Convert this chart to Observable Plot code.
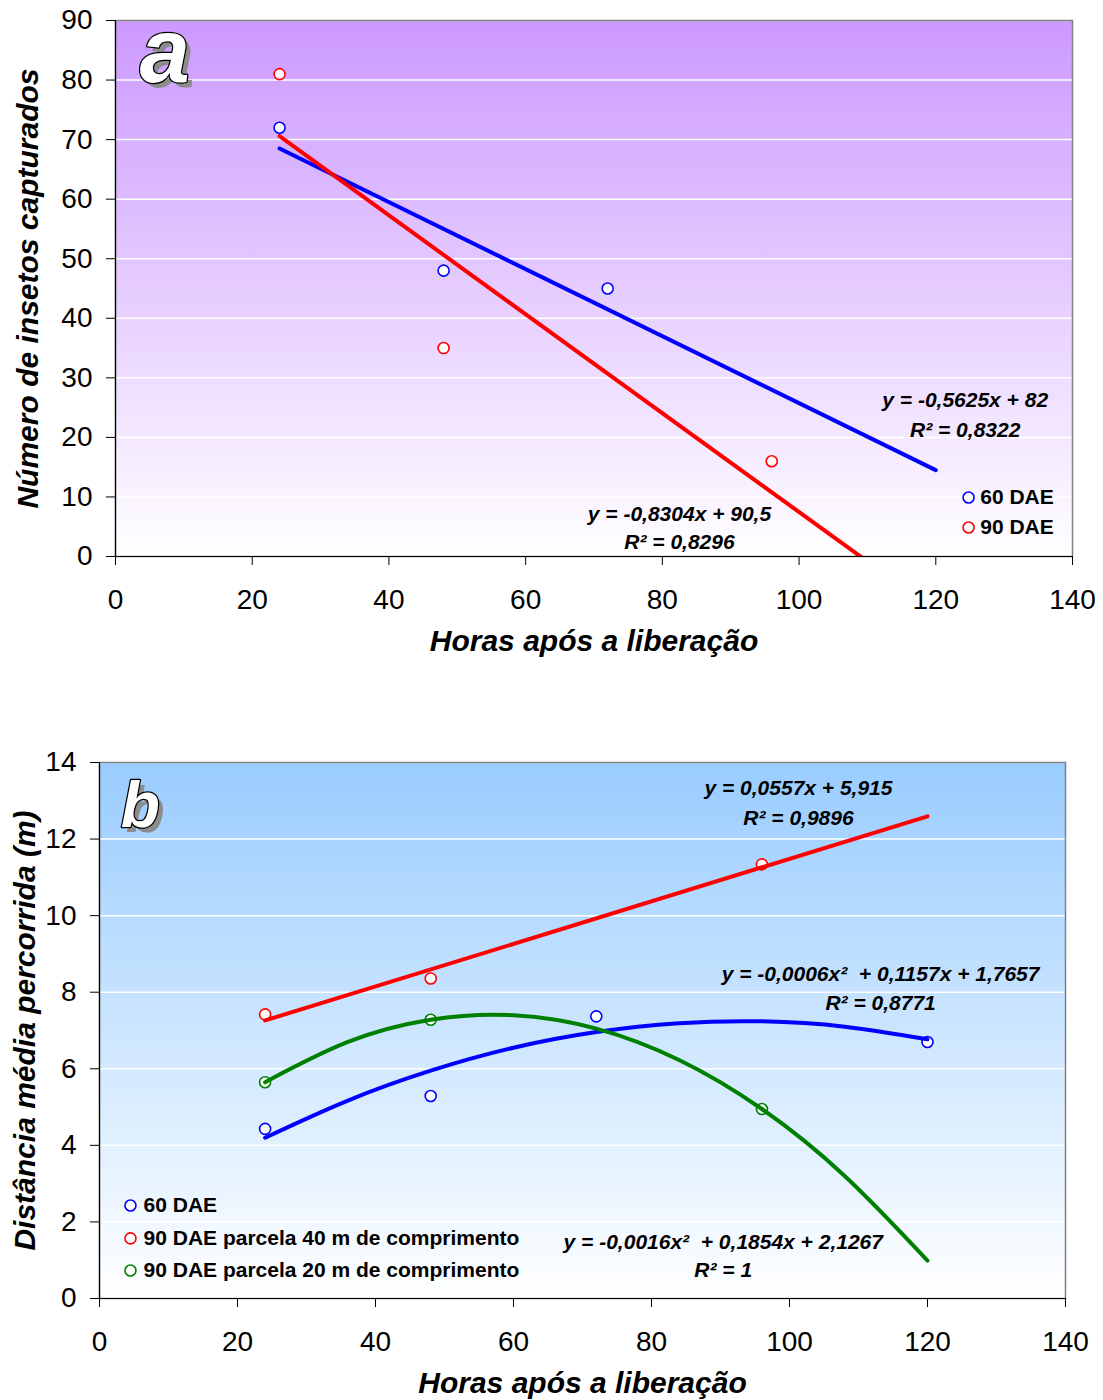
<!DOCTYPE html>
<html><head><meta charset="utf-8">
<script src="https://cdn.jsdelivr.net/npm/d3@7"></script>
<script src="https://cdn.jsdelivr.net/npm/@observablehq/plot@0.6"></script>
<style>
body{margin:0;background:#fff;width:1103px;height:1400px;position:relative;font-family:"Liberation Sans",Arial,sans-serif;}
#a{position:absolute;left:0;top:0}
#b{position:absolute;left:0;top:700px}
</style></head><body>
<div id="a"></div><div id="b"></div>
<script>
// ---------- Data: panel a ----------
const horasA60 = [24, 48, 72];
const insetos60 = [72, 48, 45];
const horasA90 = [24, 48, 96];
const insetos90 = [81, 35, 16];
const seriesA = ["60 DAE", "90 DAE"];
const eqA60 = ["y = -0,5625x + 82", "R² = 0,8322"];
const eqA90 = ["y = -0,8304x + 90,5", "R² = 0,8296"];

// ---------- Data: panel b ----------
const horasB60 = [24, 48, 72, 120];
const dist60 = [4.43, 5.29, 7.37, 6.70];
const horasB40 = [24, 48, 96];
const dist40 = [7.42, 8.36, 11.34];
const horasB20 = [24, 48, 96];
const dist20 = [5.65, 7.28, 4.95];
const seriesB = ["60 DAE", "90 DAE parcela 40 m de comprimento", "90 DAE parcela 20 m de comprimento"];
// polynomial trend curves
const trendHoras = [24, 36, 48, 60, 72, 84, 96, 108, 120];
const trend60B = [4.20, 5.17, 5.95, 6.55, 6.96, 7.19, 7.24, 7.10, 6.77];
const trend20B = [5.65, 6.70, 7.28, 7.40, 7.05, 6.23, 4.95, 3.20, 0.99];
const eqB40 = ["y = 0,0557x + 5,915", "R² = 0,9896"];
const eqB60 = ["y = -0,0006x²  + 0,1157x + 1,7657", "R² = 0,8771"];
const eqB20 = ["y = -0,0016x²  + 0,1854x + 2,1267", "R² = 1"];

// ---------- Axes ----------
const xTicks = [0, 20, 40, 60, 80, 100, 120, 140];
const yTicksA = [0, 10, 20, 30, 40, 50, 60, 70, 80, 90];
const yTicksB = [0, 2, 4, 6, 8, 10, 12, 14];
const trendDomain = [24, 120];

const FONT = '"Liberation Sans", Arial, sans-serif';

function linFit(xs, ys) {
  const mx = d3.mean(xs), my = d3.mean(ys);
  const sxy = d3.sum(xs, (x, i) => (x - mx) * (ys[i] - my));
  const sxx = d3.sum(xs, x => (x - mx) ** 2);
  const slope = sxy / sxx;
  return x => my + slope * (x - mx);
}
const toRows = (xs, ys, s) => xs.map((x, i) => ({x, y: ys[i], s}));
const fitRows = (f, s) => trendDomain.map(x => ({x, y: f(x), s}));

function addGradient(svg, id, top) {
  const defs = d3.select(svg).insert("defs", ":first-child");
  const g = defs.append("linearGradient").attr("id", id)
    .attr("x1", 0).attr("y1", 0).attr("x2", 0).attr("y2", 1);
  g.append("stop").attr("offset", 0).attr("stop-color", top);
  g.append("stop").attr("offset", 1).attr("stop-color", "#ffffff");
}

function baseMarks(yTicks, gradId, xLabel, yLabel, yDx, letter, letterPos, letterSize) {
  const txt = {fontFamily: FONT, fontWeight: "bold", fontStyle: "italic"};
  return [
    Plot.frame({fill: `url(#${gradId})`}),
    Plot.gridY(yTicks, {stroke: "white", strokeOpacity: 1, strokeWidth: 1.5}),
    Plot.frame({stroke: "#808080", strokeWidth: 1.5}),
    Plot.ruleX([0], {stroke: "black", strokeWidth: 1.2}),
    Plot.ruleY([0], {stroke: "black", strokeWidth: 1.2}),
    Plot.axisX(xTicks, {tickSize: 9, tickPadding: 24, fontSize: 28, label: null, stroke: "black"}),
    Plot.axisY(yTicks, {tickSize: 9, tickPadding: 14, fontSize: 28, label: null, stroke: "black"}),
    Plot.text([xLabel], {...txt, frameAnchor: "bottom", lineAnchor: "middle", textAnchor: "middle", dy: 85, fontSize: 30, fill: "black"}),
    Plot.text([yLabel], {...txt, frameAnchor: "left", lineAnchor: "middle", textAnchor: "middle", dx: yDx, rotate: -90, fontSize: 30, fill: "black"}),
    Plot.text([letter], {...txt, x: letterPos[0], y: letterPos[1], dx: 5, dy: 5, fontSize: letterSize, fill: "#8c8c8c"}),
    Plot.text([letter], {...txt, x: letterPos[0], y: letterPos[1], fontSize: letterSize, fill: "white", stroke: "black", strokeWidth: 2.5})
  ];
}

const eqText = (lines, x, y1, y2) => [
  Plot.text([lines[0]], {x, y: y1, fontFamily: FONT, fontWeight: "bold", fontStyle: "italic", fontSize: 21, fill: "black"}),
  Plot.text([lines[1]], {x, y: y2, fontFamily: FONT, fontWeight: "bold", fontStyle: "italic", fontSize: 21, fill: "black"})
];

// ---------- Panel a ----------
const colorA = {"60 DAE": "#0000ff", "90 DAE": "#ff0000"};
const ptsA = [...toRows(horasA60, insetos60, seriesA[0]), ...toRows(horasA90, insetos90, seriesA[1])];
const trA = [...fitRows(linFit(horasA60, insetos60), seriesA[0]), ...fitRows(linFit(horasA90, insetos90), seriesA[1])];

const svgA = Plot.plot({
  width: 1103, height: 680,
  marginTop: 20, marginBottom: 124, marginLeft: 115, marginRight: 31,
  x: {domain: [0, 140]},
  y: {domain: [0, 90]},
  style: {fontFamily: FONT, fontSize: "28px", color: "black", background: "none", overflow: "visible"},
  marks: [
    ...baseMarks(yTicksA, "gA", "Horas após a liberação", "Número de insetos capturados", -87, "a", [7.2, 84.5], 90),
    Plot.dot(ptsA, {x: "x", y: "y", r: 5.5, fill: "white", stroke: d => colorA[d.s], strokeWidth: 1.6}),
    Plot.line(trA, {x: "x", y: "y", z: "s", stroke: d => colorA[d.s], strokeWidth: 4, clip: true}),
    ...eqText(eqA60, 124.3, 26.2, 21.2),
    ...eqText(eqA90, 82.5, 7.05, 2.35),
    Plot.dot(seriesA, {x: 124.8, y: (d, i) => [9.9, 4.87][i], r: 5.5, fill: "white", stroke: d => colorA[d], strokeWidth: 1.6}),
    Plot.text(seriesA, {x: 126.5, y: (d, i) => [9.9, 4.87][i], text: d => d, textAnchor: "start", fontFamily: FONT, fontWeight: "bold", fontSize: 21, fill: "black"})
  ]
});
addGradient(svgA, "gA", "#cc99ff");
document.getElementById("a").append(svgA);

// ---------- Panel b ----------
const colorB = {[seriesB[0]]: "#0000ff", [seriesB[1]]: "#ff0000", [seriesB[2]]: "#008000"};
const ptsB = [...toRows(horasB60, dist60, seriesB[0]), ...toRows(horasB40, dist40, seriesB[1]), ...toRows(horasB20, dist20, seriesB[2])];
const trB = [
  ...toRows(trendHoras, trend60B, seriesB[0]),
  ...fitRows(linFit(horasB40, dist40), seriesB[1]),
  ...toRows(trendHoras, trend20B, seriesB[2])
];

const svgB = Plot.plot({
  width: 1103, height: 700,
  marginTop: 62, marginBottom: 102, marginLeft: 99, marginRight: 38,
  x: {domain: [0, 140]},
  y: {domain: [0, 14]},
  style: {fontFamily: FONT, fontSize: "28px", color: "black", background: "none", overflow: "visible"},
  marks: [
    ...baseMarks(yTicksB, "gB", "Horas após a liberação", "Distância média percorrida (m)", -74, "b", [5.9, 12.84], 64),
    Plot.dot(ptsB, {x: "x", y: "y", r: 5.5, fill: "white", stroke: d => colorB[d.s], strokeWidth: 1.6}),
    Plot.line(trB, {x: "x", y: "y", z: "s", stroke: d => colorB[d.s], strokeWidth: 4, curve: "natural", clip: true}),
    ...eqText(eqB40, 101.3, 13.32, 12.54),
    ...eqText(eqB60, 113.2, 8.46, 7.70),
    ...eqText(eqB20, 90.4, 1.46, 0.73),
    Plot.dot(seriesB, {x: 4.49, y: (d, i) => [2.43, 1.57, 0.73][i], r: 5.5, fill: "white", stroke: d => colorB[d], strokeWidth: 1.6}),
    Plot.text(seriesB, {x: 6.38, y: (d, i) => [2.43, 1.57, 0.73][i], text: d => d, textAnchor: "start", fontFamily: FONT, fontWeight: "bold", fontSize: 21, fill: "black"})
  ]
});
addGradient(svgB, "gB", "#99ccff");
document.getElementById("b").append(svgB);
</script>
</body></html>
